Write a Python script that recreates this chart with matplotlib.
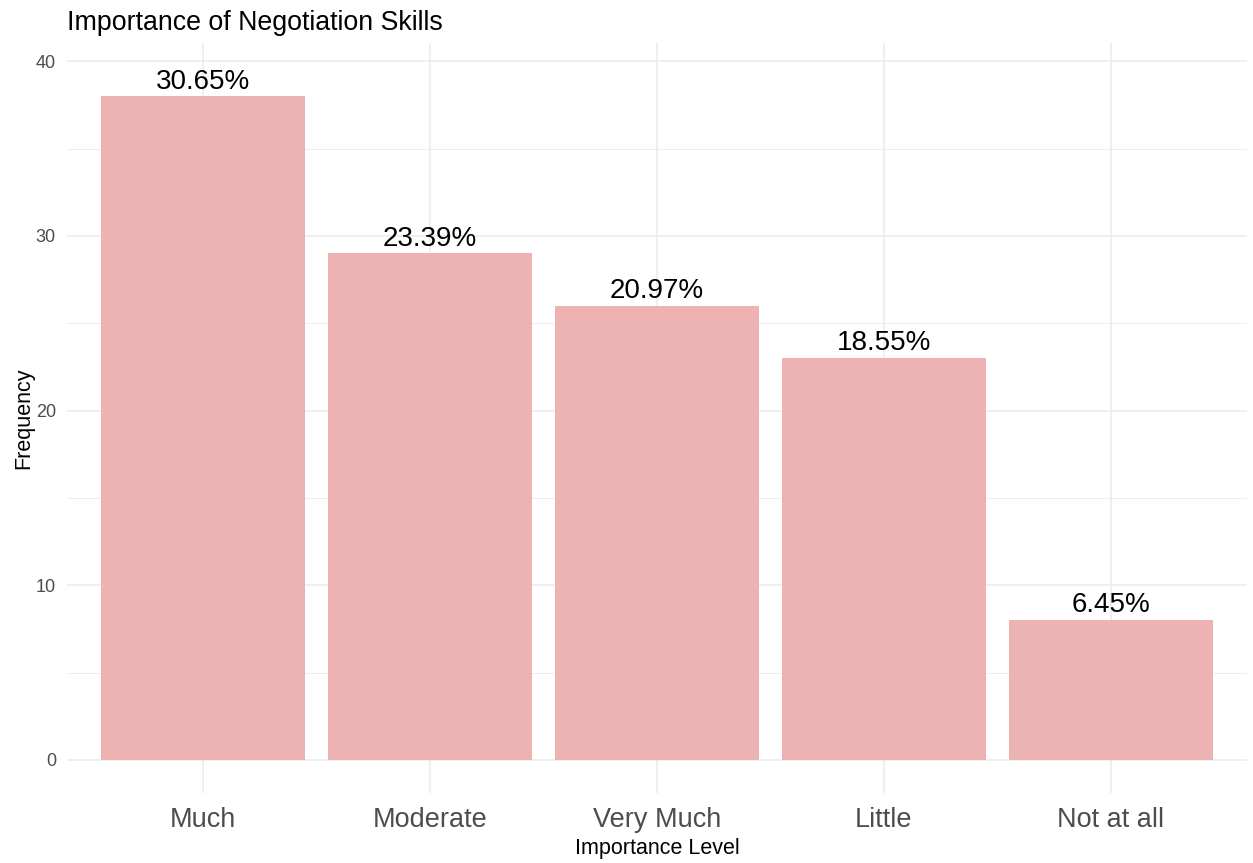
import matplotlib.pyplot as plt

plt.rcParams['font.family'] = ['Liberation Sans', 'DejaVu Sans']

categories = ['Much', 'Moderate', 'Very Much', 'Little', 'Not at all']
counts = [38, 29, 26, 23, 8]
percent_labels = ['30.65%', '23.39%', '20.97%', '18.55%', '6.45%']

fig = plt.figure(figsize=(12.53, 8.63), dpi=100)
ax = fig.add_axes([67 / 1253, 1 - 793 / 863, (1247 - 67) / 1253, (793 - 43) / 863])

x = list(range(1, len(categories) + 1))
ax.bar(x, counts, width=0.9, color='#EDB3B3', zorder=2)

for xi, c, lab in zip(x, counts, percent_labels):
    ax.text(xi, c + 0.1, lab, ha='center', va='bottom', fontsize=20, color='black', zorder=3)

ax.set_xlim(0.4, 5.6)
ax.set_ylim(-1.9, 41.05)

ax.set_xticks(x)
ax.set_xticklabels(categories, fontsize=19.5, color='#4D4D4D')
ax.set_yticks([0, 10, 20, 30, 40])
ax.set_yticks([5, 15, 25, 35], minor=True)
ax.tick_params(axis='y', labelsize=13, labelcolor='#4D4D4D', length=0, which='both', pad=8)
ax.tick_params(axis='x', length=0, pad=10)

ax.grid(True, which='major', color='#EBEBEB', linewidth=1.1, zorder=0)
ax.grid(True, which='minor', axis='y', color='#EBEBEB', linewidth=0.6, zorder=0)
for s in ax.spines.values():
    s.set_visible(False)

ax.set_xlabel('Importance Level', fontsize=15.5, labelpad=4)
ax.set_ylabel('Frequency', fontsize=15.5, labelpad=1)
fig.text(67 / 1253, 1 - 30 / 863, 'Importance of Negotiation Skills', fontsize=19.3, ha='left', va='baseline')

fig.savefig('out.png', dpi=100)
